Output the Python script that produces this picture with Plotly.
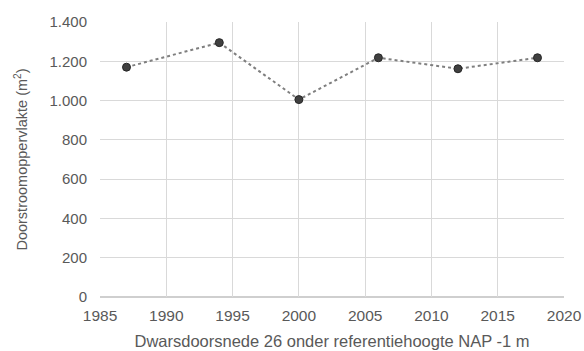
import plotly.graph_objects as go

# Measurement years and flow-through area (m²) for cross-section 26
years = [1987, 1994, 2000, 2006, 2012, 2018]
area_m2 = [1170, 1295, 1005, 1218, 1162, 1218]

x_ticks = [1985, 1990, 1995, 2000, 2005, 2010, 2015, 2020]
y_ticks = [0, 200, 400, 600, 800, 1000, 1200, 1400]

font_family = "Liberation Sans, Arial, sans-serif"
text_color = "#595959"
grid_color = "#d9d9d9"

fig = go.Figure(
    go.Scatter(
        x=years,
        y=area_m2,
        mode="lines+markers",
        line=dict(color="#7f7f7f", width=2, dash="dot"),
        marker=dict(size=8, color="#404040", line=dict(color="#262626", width=1)),
        showlegend=False,
    )
)

fig.update_layout(
    width=584,
    height=351,
    margin=dict(l=100, r=20, t=22, b=54, autoexpand=False),
    paper_bgcolor="white",
    plot_bgcolor="white",
    separators=",.",
    font=dict(family=font_family, size=15, color=text_color),
)

fig.update_xaxes(
    range=[1985, 2020],
    tickvals=x_ticks,
    showgrid=True,
    gridcolor=grid_color,
    gridwidth=1,
    zeroline=False,
    showline=False,
    ticks="outside",
    ticklen=4,
    tickcolor="rgba(0,0,0,0)",
    tickfont=dict(size=15.5, color=text_color),
    title=dict(
        text="Dwarsdoorsnede 26 onder referentiehoogte NAP -1 m",
        font=dict(size=16.5, color=text_color),
        standoff=12,
    ),
)

fig.update_yaxes(
    range=[0, 1400],
    tickvals=y_ticks,
    tickformat=",d",
    showgrid=True,
    gridcolor=grid_color,
    gridwidth=1,
    zeroline=False,
    showline=False,
    ticks="outside",
    ticklen=9,
    tickcolor="rgba(0,0,0,0)",
    tickfont=dict(size=15, color=text_color),
    title=dict(
        text="Doorstroomoppervlakte (m<sup>2</sup>)",
        font=dict(size=14.5, color=text_color),
        standoff=18,
    ),
)

# Darker baseline along the bottom of the plot area
fig.add_shape(
    type="line", xref="paper", yref="paper",
    x0=0, x1=1, y0=0, y1=0,
    line=dict(color="#bfbfbf", width=1.5),
    layer="below",
)

fig.write_html("out.html")
